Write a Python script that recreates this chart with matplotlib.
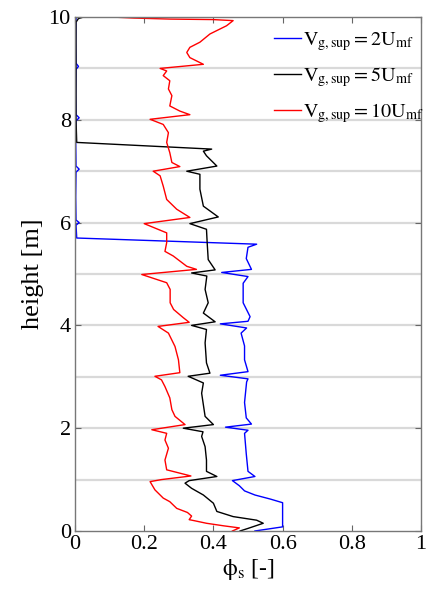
import matplotlib
matplotlib.use('Agg')
import matplotlib.pyplot as plt
import numpy as np

plt.rcParams['font.family'] = ['Liberation Serif', 'DejaVu Serif']
plt.rcParams['mathtext.fontset'] = 'stix'

# solids fraction profiles along the bed height, one list per gas velocity
h_2umf = [0.0, 0.04, 0.08, 0.3, 0.55, 0.62, 0.7, 0.78, 0.88, 0.98, 1.06, 1.16, 1.5, 1.9,
          1.96, 2.02, 2.08, 2.2, 2.5, 2.9, 2.96, 3.03, 3.1, 3.33, 3.6, 3.85, 3.95, 4.03, 4.08,
          4.17, 4.44, 4.82, 4.95, 5.03, 5.09, 5.3, 5.52, 5.58, 5.7, 5.95, 6.0, 6.05, 6.5,
          6.98, 7.04, 7.1, 7.6, 7.98, 8.04, 8.1, 8.5, 8.98, 9.04, 9.1, 9.5, 10.0]
phi_2umf = [0.52, 0.56, 0.6, 0.6, 0.6, 0.565, 0.52, 0.49, 0.475, 0.455, 0.52, 0.5, 0.495, 0.49,
            0.5, 0.435, 0.51, 0.495, 0.49, 0.496, 0.5, 0.42, 0.5, 0.49, 0.49, 0.48, 0.496, 0.42, 0.5,
            0.506, 0.486, 0.486, 0.5, 0.424, 0.51, 0.495, 0.5, 0.525, 0.005, 0.003, 0.012, 0.003, 0.002,
            0.003, 0.012, 0.003, 0.002, 0.003, 0.012, 0.003, 0.002, 0.003, 0.01, 0.003, 0.002, 0.003]

h_5umf = [0.0, 0.05, 0.15, 0.21, 0.28, 0.38, 0.54, 0.7, 0.83, 0.93, 0.98, 1.06, 1.16, 1.38,
          1.64, 1.84, 1.93, 2.0, 2.07, 2.23, 2.5, 2.68, 2.88, 3.01, 3.07, 3.27, 3.66, 3.92, 4.0,
          4.07, 4.24, 4.44, 4.7, 4.96, 5.02, 5.08, 5.28, 5.61, 5.87, 5.98, 6.11, 6.32, 6.65, 6.94,
          7.0, 7.1, 7.3, 7.39, 7.43, 7.56, 8.0, 9.0, 9.9, 9.97, 10.0]
phi_5umf = [0.477, 0.5, 0.544, 0.525, 0.457, 0.41, 0.4, 0.371, 0.337, 0.318, 0.33, 0.41, 0.38, 0.38,
            0.376, 0.366, 0.37, 0.313, 0.4, 0.376, 0.37, 0.366, 0.371, 0.327, 0.39, 0.38, 0.376, 0.38, 0.337,
            0.405, 0.371, 0.385, 0.376, 0.381, 0.337, 0.405, 0.385, 0.382, 0.38, 0.332, 0.414, 0.371, 0.361, 0.361,
            0.323, 0.41, 0.38, 0.371, 0.395, 0.005, 0.003, 0.003, 0.003, 0.01, 0.025]

h_10umf = [0.0, 0.06, 0.1, 0.15, 0.2, 0.22, 0.29, 0.36, 0.44, 0.57, 0.64, 0.8, 0.96, 1.0, 1.07,
           1.19, 1.38, 1.61, 1.77, 1.9, 1.97, 2.07, 2.23, 2.36, 2.59, 2.81, 2.94, 3.01, 3.08, 3.33,
           3.59, 3.85, 3.98, 4.06, 4.15, 4.31, 4.44, 4.7, 4.83, 4.99, 5.09, 5.15, 5.35, 5.44, 5.61,
           5.8, 5.98, 6.1, 6.26, 6.45, 6.71, 6.91, 7.0, 7.09, 7.17, 7.36, 7.56, 7.75, 7.91, 8.01,
           8.1, 8.17, 8.27, 8.47, 8.6, 8.76, 8.86, 8.95, 9.0, 9.08, 9.21, 9.31, 9.41, 9.51, 9.67,
           9.83, 9.93, 9.95, 9.96, 9.98, 10.0]
phi_10umf = [0.455, 0.475, 0.43, 0.38, 0.345, 0.33, 0.337, 0.325, 0.294, 0.274, 0.255, 0.231, 0.217, 0.25, 0.335,
             0.265, 0.26, 0.27, 0.26, 0.265, 0.222, 0.318, 0.289, 0.28, 0.274, 0.26, 0.25, 0.231, 0.303, 0.299,
             0.289, 0.27, 0.24, 0.33, 0.313, 0.285, 0.275, 0.275, 0.265, 0.193, 0.351, 0.323, 0.284, 0.26, 0.265,
             0.265, 0.2, 0.332, 0.294, 0.265, 0.255, 0.246, 0.226, 0.303, 0.28, 0.274, 0.265, 0.27, 0.255, 0.217,
             0.332, 0.303, 0.274, 0.28, 0.27, 0.274, 0.255, 0.265, 0.246, 0.371, 0.332, 0.323, 0.332, 0.361, 0.39,
             0.438, 0.457, 0.399, 0.274, 0.169, 0.106]

labels = [r'$\mathrm{V_{g,sup}=2U_{mf}}$',
          r'$\mathrm{V_{g,sup}=5U_{mf}}$',
          r'$\mathrm{V_{g,sup}=10U_{mf}}$']
stage_levels = [1, 2, 3, 4, 5, 6, 7, 8, 9]

fig = plt.figure(figsize=(4.33, 5.95), dpi=100)
ax = fig.add_axes([0.1732, 0.1076, 0.7991, 0.8638])

# stage boundaries
for lvl in stage_levels:
    ax.axhline(lvl, color='#d9d9d9', lw=1.6, zorder=0)

ax.plot(phi_2umf, h_2umf, color='blue', lw=1.0, label=labels[0])
ax.plot(phi_5umf, h_5umf, color='black', lw=1.0, label=labels[1])
ax.plot(phi_10umf, h_10umf, color='red', lw=1.0, label=labels[2])

ax.set_xlim(0, 1)
ax.set_ylim(0, 10)
ax.set_xticks([0, 0.2, 0.4, 0.6, 0.8, 1])
ax.set_xticklabels(['0', '0.2', '0.4', '0.6', '0.8', '1'])
ax.set_yticks([0, 2, 4, 6, 8, 10])
ax.tick_params(direction='in', top=True, right=True, labelsize=16, length=4,
               color='#666666', pad=3)
for sp in ax.spines.values():
    sp.set_color('#777777')
    sp.set_linewidth(1.0)

ax.set_xlabel(r'$\mathrm{\phi_s}$ [-]', fontsize=17, labelpad=2)
ax.set_ylabel('height [m]', fontsize=19, labelpad=3)

ax.legend(loc='upper left', bbox_to_anchor=(0.575, 0.975), frameon=False,
          fontsize=14.5, handlelength=1.35, handletextpad=0.1, labelspacing=0.6,
          borderaxespad=0, borderpad=0)

fig.savefig('out.png', dpi=100)
